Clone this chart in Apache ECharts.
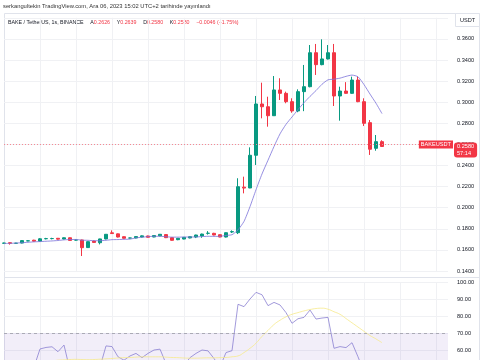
<!DOCTYPE html>
<html><head><meta charset="utf-8">
<script src="https://cdn.jsdelivr.net/npm/echarts@6/dist/echarts.min.js"></script>
<style>html,body{margin:0;padding:0;background:#fff;overflow:hidden}#c{width:485px;height:470px}</style>
</head><body><div id="c"></div>
<script>
// ---- data ----
const opens  = [.1663,.1668,.1662,.1665,.1685,.1692,.1683,.1706,.1707,.1710,.1703,.1715,.1693,.1694,.1622,.1684,.1668,.1704,.1762,.1752,.1725,.1712,.1713,.1722,.1732,.1722,.1733,.1745,.1716,.1697,.1703,.1713,.1722,.1732,.1757,.1757,.1744,.1722,.1770,.1763,.2195,.2187,.2497,.2983,.2957,.2872,.3116,.3084,.3005,.2917,.3100,.3147,.3469,.3356,.3410,.3469,.3059,.3106,.3084,.3210,.3005,.2806,.2563,.2626];
const closes = [.1665,.1662,.1664,.1688,.1686,.1683,.1705,.1707,.1708,.1702,.1715,.1690,.1694,.1621,.1678,.1671,.1704,.1748,.1755,.1722,.1710,.1713,.1726,.1733,.1720,.1736,.1748,.1716,.1691,.1710,.1719,.1725,.1741,.1750,.1758,.1741,.1722,.1763,.1773,.2199,.2186,.2497,.2983,.2957,.2872,.3116,.3084,.3005,.2917,.3100,.3147,.3469,.3356,.3410,.3469,.3059,.3106,.3084,.3210,.3005,.2800,.2554,.2626,.2580];
const lows   = [.1660,.1650,.1660,.1662,.1683,.1680,.1680,.1700,.1700,.1698,.1700,.1688,.1688,.1542,.1618,.1668,.1652,.1700,.1752,.1718,.1708,.1708,.1710,.1718,.1718,.1720,.1730,.1712,.1688,.1692,.1700,.1710,.1712,.1715,.1745,.1738,.1720,.1718,.1760,.1750,.2136,.2185,.2405,.2847,.2768,.2870,.3021,.2990,.2900,.2905,.2915,.3141,.3258,.3350,.3405,.2964,.2825,.3080,.3080,.3000,.2774,.2500,.2540,.2580];
const highs  = [.1668,.1670,.1667,.1691,.1690,.1696,.1712,.1714,.1715,.1713,.1718,.1718,.1700,.1697,.1680,.1687,.1706,.1750,.1785,.1755,.1728,.1716,.1729,.1737,.1735,.1738,.1750,.1748,.1718,.1712,.1722,.1728,.1744,.1754,.1778,.1762,.1747,.1766,.1785,.2279,.2294,.2572,.3059,.3185,.3052,.3248,.3227,.3100,.3037,.3122,.3353,.3542,.3552,.3596,.3542,.3552,.3147,.3190,.3242,.3242,.3037,.2831,.2689,.2639];
const maValues = [.1660,.1662,.1665,.1668,.1672,.1676,.1679,.1682,.1685,.1689,.1695,.1698,.1699,.1692,.1691,.1687,.1687,.1691,.1697,.1698,.1700,.1702,.1714,.1720,.1726,.1729,.1729,.1725,.1721,.1721,.1722,.1722,.1723,.1726,.1729,.1728,.1729,.1737,.1744,.1790,.1870,.2010,.2170,.2320,.2450,.2580,.2700,.2790,.2860,.2930,.2995,.3055,.3110,.3170,.3212,.3218,.3228,.3245,.3257,.3241,.3167,.3077,.2990,.2892];
const rsiValues = [45,40,42,50,48,50,60.6,61.5,61.9,59,62.9,48,47,30,42,40,50,62.4,62,56,54,56.5,58,55.5,58,60,60.5,52,44,48,51,55.5,58,60,59.5,55,50,58.5,59.6,86.9,85.5,90,93.9,92.5,86.1,88,86.5,82,75.7,78.4,79.2,83.5,78.2,78.8,79.2,61,62,61.4,64.3,56,47,38,41,40];
const rsiMaValues = [50,50.5,51,51.5,52,52.5,53,53.3,53.6,54,54.2,54.4,54.5,54.4,54.3,54.4,54.6,54.8,55,55.3,55.5,55.6,55.8,56,56,56,56,55.8,55.6,55.5,55.3,55.2,55.2,55.3,55.4,55.4,55.5,55.6,56,56.5,58.5,61,64,68,71.5,75,77.5,79.5,81,82,83,83.8,84.4,84.6,84,82.5,81,78.5,76,73.5,71,68.5,66.5,64.3];
const priceTicks = {min: 0.14, max: 0.38, step: 0.02};
const rsiTicks = {min: 0, max: 100, step: 10};
const lastPrice = 0.2580;
const headerTitle = 'serkangultekin TradingView.com, Ara 06, 2023 15:02 UTC+2 tarihinde yayınlandı';
const symbolText = 'BAKE / TetherUS, 1s, BINANCE';
const ohlcText = ['A0.2626','Y0.2639','D0.2580','K0.2580','−0.0046 (−1.75%)'];
const countdown = '57:14';
const totalSlots = 75;

const categories = [];
for (let i = 0; i < totalSlots; i++) categories.push(String(i));
const candleData = opens.map((o, i) => [o, closes[i], lows[i], highs[i]]);

const UP = '#089981', DOWN = '#f23645';
const FONT = 'Liberation Sans';
const GRIDC = '#f0f1f4';

const chart = echarts.init(document.getElementById('c'), null, {renderer: 'canvas'});
const xCommon = {
  type: 'category', data: categories, boundaryGap: false,
  axisLine: {show: false}, axisTick: {show: false}, axisLabel: {show: false},
  splitLine: {show: true, interval: (idx) => idx > 0 && idx % 6 === 0, lineStyle: {color: GRIDC, width: 1}}
};
chart.setOption({
  animation: false,
  backgroundColor: '#ffffff',
  textStyle: {fontFamily: FONT},
  grid: [
    {left: 4, width: 444, top: 17.8, height: 253.2},
    {left: 4, width: 444, top: 282, height: 170}
  ],
  xAxis: [Object.assign({gridIndex: 0}, xCommon), Object.assign({gridIndex: 1}, xCommon)],
  yAxis: [
    {gridIndex: 0, position: 'right', min: priceTicks.min, max: priceTicks.max, interval: priceTicks.step,
     axisLine: {show: false}, axisTick: {show: false},
     axisLabel: {margin: 9, fontSize: 5.6, color: '#131722', fontFamily: FONT, showMaxLabel: false,
       formatter: v => v.toFixed(4)},
     splitLine: {lineStyle: {color: GRIDC}},
     axisPointer: {show: true, value: lastPrice, status: 'show', triggerTooltip: false, snap: false,
       lineStyle: {opacity: 0, width: 0},
       label: {show: true, formatter: () => lastPrice.toFixed(4) + '\n' + countdown,
         backgroundColor: DOWN, color: '#fff', fontSize: 5.6, fontFamily: FONT, lineHeight: 6.5,
         padding: [1, 3, 1, 3], margin: 6}}
    },
    {gridIndex: 1, position: 'right', min: rsiTicks.min, max: rsiTicks.max, interval: rsiTicks.step,
     axisLine: {show: false}, axisTick: {show: false},
     axisLabel: {margin: 9, fontSize: 5.6, color: '#131722', fontFamily: FONT,
       formatter: v => v.toFixed(2)},
     splitLine: {lineStyle: {color: GRIDC}}
    }
  ],
  axisPointer: {triggerOn: 'none'},
  series: [
    {type: 'candlestick', xAxisIndex: 0, yAxisIndex: 0, data: candleData, barWidth: 4,
     itemStyle: {color: UP, color0: DOWN, borderColor: UP, borderColor0: DOWN, borderWidth: 1},
     markLine: {symbol: 'none', silent: true, animation: false,
       lineStyle: {color: '#f58a94', type: [1, 2], width: 1},
       label: {show: true, position: 'insideEnd', formatter: 'BAKEUSDT', color: '#fff', backgroundColor: DOWN,
         fontSize: 5.6, fontFamily: FONT, padding: [1, 2, 1, 2], distance: 0, offset: [5, 0]},
       emphasis: {disabled: true},
       data: [{yAxis: lastPrice}]}
    },
    {type: 'line', xAxisIndex: 0, yAxisIndex: 0, data: maValues, symbol: 'none', smooth: 0.2,
     lineStyle: {color: '#7b72d9', width: 0.8}},
    {type: 'line', xAxisIndex: 1, yAxisIndex: 1, data: rsiValues, symbol: 'none',
     lineStyle: {color: '#8a80d2', width: 0.8},
     markArea: {silent: true, itemStyle: {color: 'rgba(126,87,194,0.1)'}, data: [[{yAxis: 30}, {yAxis: 70}]]},
     markLine: {symbol: 'none', silent: true, label: {show: false},
       lineStyle: {color: '#9a9ca6', type: [3, 3], width: 0.8}, data: [{yAxis: 70}, {yAxis: 30}]}
    },
    {type: 'line', xAxisIndex: 1, yAxisIndex: 1, data: rsiMaValues, symbol: 'none', smooth: true,
     lineStyle: {color: '#f6ea8c', width: 0.8}}
  ],
  graphic: [
    {type: 'text', left: 3, top: 3.5, style: {text: headerTitle, fill: '#333', font: '5.8px ' + FONT}},
    {type: 'rect', shape: {x: 4.5, y: 13.5, width: 475, height: 460}, style: {fill: 'none', stroke: '#e0e3eb', lineWidth: 1}, silent: true},
    {type: 'line', shape: {x1: 4.5, y1: 277.5, x2: 480, y2: 277.5}, style: {stroke: '#e0e3eb', lineWidth: 1}},
    {type: 'rect', shape: {x: 455.5, y: 13.5, width: 24, height: 13}, style: {fill: '#fff', stroke: '#e0e3eb', lineWidth: 1}},
    {type: 'text', x: 467.5, y: 20, style: {text: 'USDT', fill: '#131722', font: '5.6px ' + FONT, textAlign: 'center', textVerticalAlign: 'middle'}},
    {type: 'text', left: 8, top: 16.5, style: {
      text: '{g|' + symbolText + '}  {g|A}{r|' + ohlcText[0].slice(1) + '}  {g|Y}{r|' + ohlcText[1].slice(1) + '}  {g|D}{r|' + ohlcText[2].slice(1) + '}  {g|K}{r|' + ohlcText[3].slice(1) + '}  {r|' + ohlcText[4] + '}',
      rich: {g: {fill: '#131722', font: '5.3px ' + FONT}, r: {fill: DOWN, font: '5.3px ' + FONT}}
    }}
  ]
});
</script></body></html>
